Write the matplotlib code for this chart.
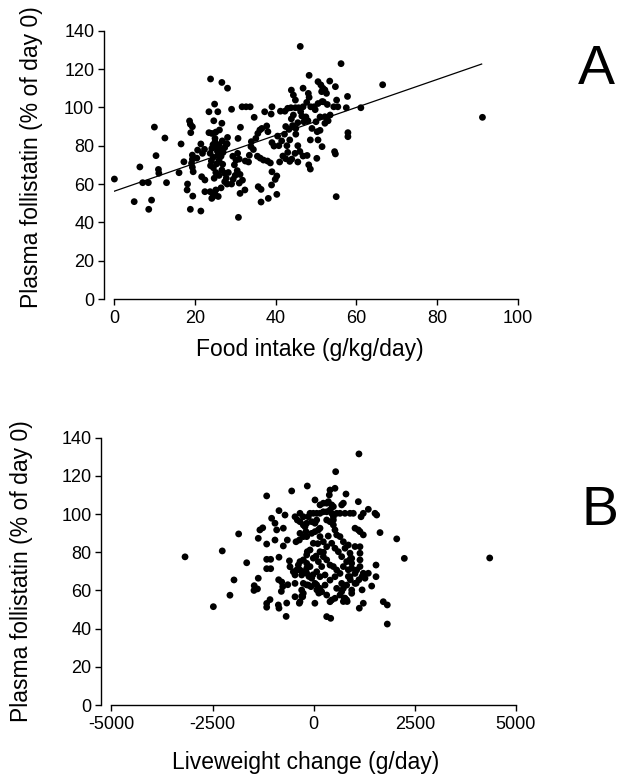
import matplotlib
matplotlib.use("Agg")
import matplotlib.pyplot as plt

plt.rcParams['font.family'] = ['Liberation Sans', 'DejaVu Sans']

# ---------------- Panel A data ----------------
food_intake = [
    0.1, 5.0, 6.4, 7.1, 8.5, 9.3, 8.6, 10.0, 10.4, 11.0, 11.1, 13.0, 12.6, 16.6, 16.1, 17.3,
    19.0, 18.7, 18.9, 19.4, 18.2, 18.1, 19.5, 18.9, 21.5, 19.4, 19.4, 19.2, 19.4, 19.6, 21.5, 21.9,
    22.4, 21.7, 22.5, 22.5, 20.7, 20.5,
    23.9, 23.5, 23.5, 24.2, 25.0, 24.7, 24.9, 25.2, 25.7, 26.1, 26.7, 26.7, 28.1, 23.8, 24.2, 24.5,
    25.0, 25.3, 25.6, 26.0, 26.3, 25.8, 24.6, 24.1, 23.9, 24.6, 25.4, 26.0, 26.5, 27.0, 27.4, 27.8,
    26.8, 25.2, 26.0, 24.8, 23.8, 24.6, 24.5, 24.9, 25.2, 24.2, 25.8, 26.5, 26.9, 26.7, 27.4, 27.8,
    27.4, 28.1, 28.0, 28.0, 28.3,
    29.1, 29.1, 29.5, 30.0, 30.5, 29.8, 30.2, 29.4, 30.6, 31.0, 31.2, 31.8, 31.0, 30.8, 31.2, 32.4,
    30.7, 31.3, 31.7, 32.7, 33.7, 32.5, 33.3, 33.9, 34.0, 34.5, 33.5,
    34.7, 35.1, 35.6, 36.1, 36.6, 35.7, 36.4, 36.4, 35.5, 36.2, 37.0, 37.3, 37.8, 38.1, 38.2, 38.0,
    38.7, 38.9, 39.1, 39.1, 39.6, 39.0, 39.9, 40.3, 40.3, 39.1, 40.5, 40.8, 41.0,
    41.2, 42.3, 43.0, 43.8, 44.9, 45.7, 46.2, 43.9, 44.4, 44.9, 43.9, 44.2, 45.0, 42.2, 42.5, 41.8,
    42.5, 43.5, 44.0, 43.0, 44.8, 45.5, 46.1, 46.8, 48.1, 48.3, 48.3, 46.8, 47.7, 47.0, 46.5, 45.5,
    47.5, 48.0, 46.8, 47.8, 48.2, 48.6, 48.6, 42.8, 43.5, 45.0, 45.5, 46.0, 41.5, 43.3, 44.4,
    48.7, 49.5, 50.5, 49.8, 50.5, 51.2, 51.7, 52.2, 50.5, 50.3, 51.5, 50.2, 52.2, 52.2, 51.0, 50.0,
    49.0, 53.4, 54.8, 55.1, 55.4, 54.4, 53.5, 53.0, 54.6, 54.8, 55.0, 56.2, 57.5, 57.8, 57.9, 57.9,
    52.8, 51.5, 51.4, 51.8, 52.6, 51.0,
    61.1, 66.5, 91.2,
]
follistatin_a = [
    62.6, 50.8, 68.9, 60.7, 60.7, 51.6, 46.8, 89.7, 74.8, 67.6, 65.6, 60.7, 84.0, 80.9, 65.9, 71.6,
    86.8, 92.9, 91.2, 89.9, 60.0, 56.9, 53.7, 46.8, 45.9, 75.1, 72.9, 70.8, 68.7, 66.4, 80.9, 76.0,
    78.1, 63.8, 62.1, 56.0, 77.7, 73.5,
    114.8, 97.7, 86.8, 86.4, 83.8, 93.0, 101.7, 87.1, 97.7, 88.2, 91.7, 113.0, 110.0, 76.0, 78.5, 80.5,
    82.0, 79.0, 77.0, 80.5, 78.0, 75.0, 74.0, 72.0, 69.6, 68.5, 70.5, 72.5, 74.5, 76.5, 79.0, 81.0,
    82.5, 66.0, 64.5, 63.0, 56.0, 54.3, 53.4, 55.1, 56.9, 52.5, 53.5, 58.0, 70.3, 67.3, 65.6, 63.0,
    61.2, 84.3, 80.9, 60.0, 66.0,
    99.0, 60.0, 62.5, 64.5, 67.0, 70.0, 72.5, 74.5, 76.0, 73.0, 65.0, 62.0, 60.5, 42.6, 55.1, 56.9,
    83.8, 89.6, 100.3, 100.3, 100.3, 72.0, 71.5, 79.5, 82.1, 78.0, 75.0,
    94.8, 83.8, 86.4, 88.2, 89.0, 58.6, 57.2, 50.6, 74.5, 73.5, 72.5, 97.7, 90.3, 87.3, 52.5, 72.0,
    71.0, 96.5, 100.3, 81.6, 79.8, 59.5, 62.4, 64.2, 54.6, 66.4, 85.0, 80.0, 71.5,
    98.0, 98.0, 99.5, 99.8, 99.8, 99.8, 97.8, 109.0, 106.4, 103.8, 94.0, 90.5, 89.0, 86.0, 90.0, 74.6,
    73.2, 71.8, 73.0, 76.5, 76.0, 71.5, 131.8, 110.0, 107.3, 105.2, 116.7, 100.3, 102.6, 92.5, 95.5, 92.0,
    95.0, 93.0, 74.6, 74.9, 70.0, 67.8, 83.0, 80.0, 83.0, 86.0, 80.0, 77.0, 82.5, 88.5, 96.0,
    100.3, 100.3, 102.0, 98.8, 113.4, 111.7, 110.0, 109.1, 83.0, 87.3, 79.5, 73.4, 95.1, 91.7, 95.0, 92.5,
    89.0, 113.7, 110.8, 103.8, 100.3, 100.3, 96.0, 93.0, 76.9, 75.7, 53.4, 122.8, 99.8, 105.7, 86.8, 84.7,
    101.5, 103.0, 108.2, 102.9, 107.3, 88.0,
    99.8, 111.8, 94.8,
]
fit_x = [0, 91]
fit_y = [56.2, 122.6]

# ---------------- Panel B data ----------------
liveweight_change = [
    -3180, -2480, -2260, -2070, -1970, -1855, -1656, -1470, -1476, -1390, -1370, -1370, -1330, -1260,
    -1162, -1162, -1162, -1063, -1162, -1063, -1162, -1080, -1162, -1040,
    -957, -915, -957, -858, -858, -866, -790, -766, -800, -874, -858, -667, -681, -709, -751, -652,
    -751, -544, -586, -600, -504, -640,
    -462, -405, -339, -257, -437, -355, -420, -380, -339, -257, -173, -339, -257, -173, -462, -462,
    -297, -257, -173, -297, -272, -355, -462, -158, -133, -173, -190, -158, -339, -257, -91, -10,
    -215, -50, -339, -257, -50, -10, -91, -173, -10, -91, -173, -50, -133, -257, -173, -68, -19,
    -117, -339, -297,
    543, 403, 386, 526, 32, 156, 238, 321, 362, 445, 486, 74, 156, 238, 321, 403, 445, 486, 32, 74,
    321, 403, 486, 32, 115, 156, 486, 156, 238, 321, 445, 156, 238, 321, 403, 486, 115, 198, 74, 156,
    280, 403, 32, 156, 280, 29, 78, 126, 321, 198, 115, 74, 321, 420, 445, 403, 240, 100, 360, 60,
    526, 526, 526, 568, 568, 568, 526, 609, 650, 650, 650, 692, 733, 798, 692, 733, 733, 733, 692, 692,
    774, 774, 733, 815, 815, 815, 856, 856, 856, 827, 759, 773, 897, 979, 897, 897, 939, 939, 939, 939,
    939, 905, 905, 650, 568,
    1021, 1103, 1144, 1226, 1021, 1062, 1021, 1021, 1103, 1118, 1350, 1515, 1557, 1170, 1226, 1144,
    1144, 1144, 1144, 1226, 1268, 1350, 1433, 1540, 1540, 1118, 1196, 1051, 1196, 1127, 1226, 1639,
    1720, 1819, 1819, 2052, 2240, 4350,
]
follistatin_b = [
    77.6, 51.5, 80.7, 57.5, 65.5, 89.6, 74.5, 62.5, 60.0, 60.8, 66.4, 87.3, 91.7, 92.8,
    109.5, 84.3, 76.3, 76.3, 71.4, 71.4, 53.2, 55.2, 51.2, 97.8,
    95.2, 91.7, 86.4, 101.8, 77.4, 65.6, 64.4, 62.0, 59.5, 52.4, 50.7, 53.4, 46.4, 99.5, 92.6, 86.4,
    83.3, 112.1, 72.4, 75.5, 69.8, 63.0,
    98.6, 96.9, 96.0, 94.3, 85.5, 86.4, 70.7, 73.3, 75.1, 76.0, 74.2, 70.7, 69.8, 71.6, 63.7, 68.1,
    68.1, 63.7, 62.9, 60.2, 56.7, 53.3, 56.7, 80.3, 98.6, 95.2, 90.8, 114.7, 100.4, 98.6, 100.4, 100.4,
    93.4, 96.0, 89.9, 88.2, 89.9, 84.7, 81.2, 78.6, 76.9, 72.5, 69.0, 66.4, 62.8, 58.5, 88.2, 62.0, 68.2,
    67.3, 54.1, 57.0,
    122.2, 112.6, 110.0, 113.5, 107.4, 104.8, 105.7, 105.7, 106.5, 104.8, 103.9, 100.4, 100.4, 101.2, 101.2, 102.1, 100.4, 98.6, 95.2, 96.9,
    96.9, 96.0, 96.9, 90.8, 91.7, 92.6, 94.3, 88.2, 85.5, 82.9, 84.7, 80.3, 77.7, 76.0, 73.3, 72.5, 75.1, 72.5, 69.8, 67.2,
    68.1, 65.4, 63.7, 61.1, 62.8, 53.3, 60.3, 58.6, 57.6, 59.3, 61.1, 62.9, 46.3, 45.4, 55.0, 54.1, 80.0, 84.5, 88.5, 78.0,
    67.2, 82.1, 91.7, 89.1, 70.7, 61.1, 55.9, 80.3, 68.9, 88.2, 57.6, 104.8, 105.7, 110.5, 77.7, 72.5, 85.5, 61.1, 59.4, 63.7,
    82.1, 55.9, 54.2, 75.1, 62.8, 55.0, 83.8, 67.3, 70.8, 54.2, 56.0, 100.4, 100.4, 100.4, 79.5, 67.2, 76.8, 74.2, 71.6, 60.2,
    58.5, 65.6, 76.5, 100.4, 100.4,
    92.6, 91.7, 90.8, 89.1, 83.0, 70.7, 68.9, 63.7, 106.5, 131.5, 102.5, 100.4, 99.5, 98.6, 100.4, 82.9,
    79.5, 76.0, 72.5, 69.0, 66.4, 69.0, 62.3, 73.3, 67.2, 65.6, 67.3, 63.8, 60.3, 50.7, 53.3, 90.3,
    54.1, 52.4, 42.4, 87.0, 76.8, 77.0,
]

x_ticks_a = [0, 20, 40, 60, 80, 100]
x_ticks_b = [-5000, -2500, 0, 2500, 5000]
y_ticks = [0, 20, 40, 60, 80, 100, 120, 140]

W, H = 618, 781
fig = plt.figure(figsize=(W / 100, H / 100), dpi=100)


def style(ax):
    for s in ('top', 'right'):
        ax.spines[s].set_visible(False)
    ax.spines['left'].set_position(('outward', 7.2))
    for s in ('left', 'bottom'):
        ax.spines[s].set_linewidth(1.0)
    ax.tick_params(direction='out', length=4, width=1.0, labelsize=13, colors='black')
    ax.tick_params(axis='x', pad=4)
    ax.tick_params(axis='y', pad=3)
    ax.set_yticks(y_ticks)
    ax.set_ylim(0, 140)


# Panel A
axA = fig.add_axes([114 / W, 1 - 299 / H, 404 / W, 268.3 / H])
axA.scatter(food_intake, follistatin_a, s=24, c='black', edgecolors='none', clip_on=False, zorder=3)
axA.plot(fit_x, fit_y, color='black', lw=0.9)
axA.set_xlim(0, 100)
axA.set_xticks(x_ticks_a)
style(axA)
axA.set_xlabel('Food intake (g/kg/day)', fontsize=16.5)
axA.set_ylabel('Plasma follistatin (% of day 0)', fontsize=16.5)
axA.xaxis.set_label_coords(0.484, -0.145)
axA.yaxis.set_label_coords(-0.175, 0.527)

# Panel B
axB = fig.add_axes([111.4 / W, 1 - 705 / H, 404.6 / W, 267.3 / H])
axB.scatter(liveweight_change, follistatin_b, s=24, c='black', edgecolors='none', clip_on=False, zorder=3)
axB.set_xlim(-5000, 5000)
axB.set_xticks(x_ticks_b)
axB.set_xticklabels([str(v) for v in x_ticks_b])
style(axB)
axB.set_xlabel('Liveweight change (g/day)', fontsize=16.5)
axB.set_ylabel('Plasma follistatin (% of day 0)', fontsize=16.5)
axB.xaxis.set_label_coords(0.481, -0.172)
axB.yaxis.set_label_coords(-0.194, 0.501)

fig.text(578 / W, 1 - 84 / H, 'A', fontsize=40, ha='left', va='baseline')
fig.text(582 / W, 1 - 525 / H, 'B', fontsize=40, ha='left', va='baseline')

fig.savefig('out.png', dpi=100)
